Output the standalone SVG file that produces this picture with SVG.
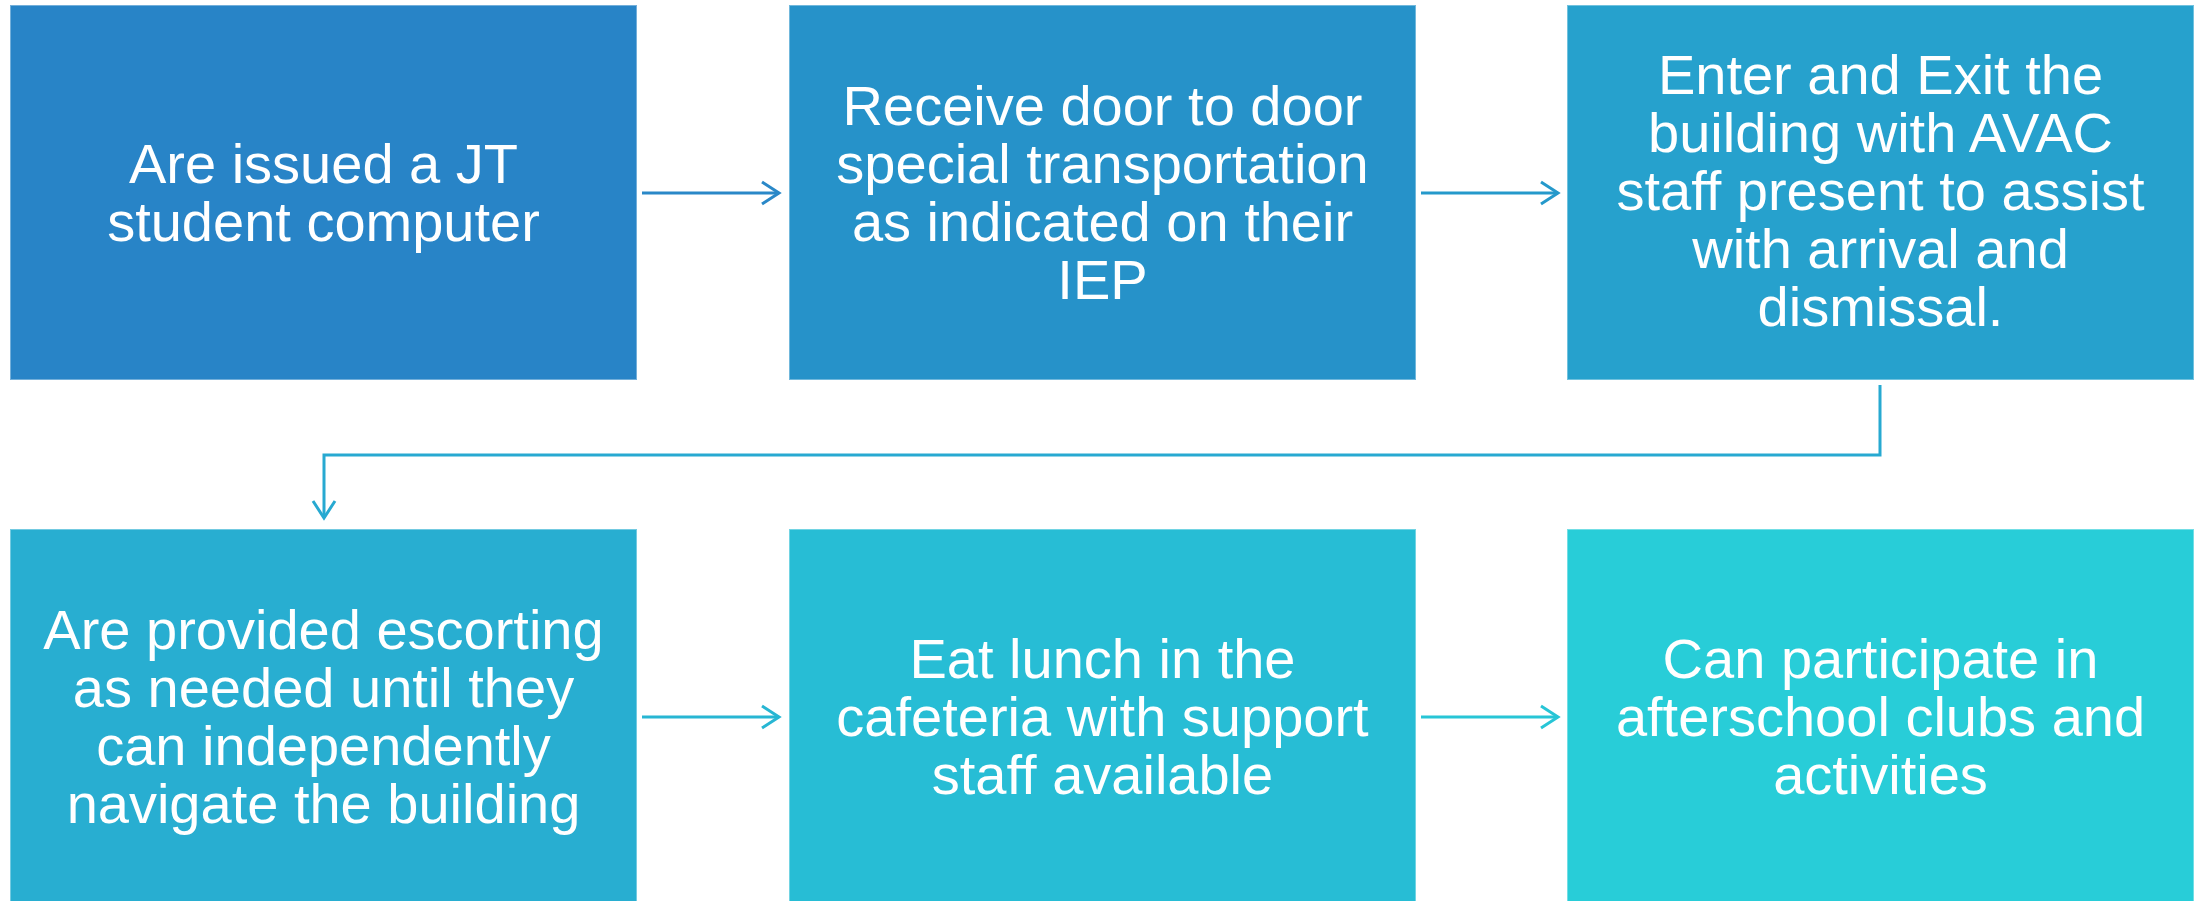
<svg xmlns="http://www.w3.org/2000/svg" width="2201" height="901" viewBox="0 0 2201 901">
<style>
.box{stroke:#ffffff;stroke-opacity:0.35;stroke-width:2}
.t{font-family:"Liberation Sans",Arial,sans-serif;font-size:56px;fill:#ffffff;text-anchor:middle}
.c{fill:none;stroke-width:3}
</style>
<defs>
<marker id="ah1" markerUnits="userSpaceOnUse" markerWidth="30" markerHeight="30" viewBox="-20 -15 25 30" refX="0" refY="0" orient="auto"><path d="M-17,-11 L0,0 L-17,11" fill="none" stroke="#2A88C8" stroke-width="3"/></marker>
<marker id="ah2" markerUnits="userSpaceOnUse" markerWidth="30" markerHeight="30" viewBox="-20 -15 25 30" refX="0" refY="0" orient="auto"><path d="M-17,-11 L0,0 L-17,11" fill="none" stroke="#2599CB" stroke-width="3"/></marker>
<marker id="ah3" markerUnits="userSpaceOnUse" markerWidth="30" markerHeight="30" viewBox="-20 -15 25 30" refX="0" refY="0" orient="auto"><path d="M-17,-11 L0,0 L-17,11" fill="none" stroke="#27A9D1" stroke-width="3"/></marker>
<marker id="ah4" markerUnits="userSpaceOnUse" markerWidth="30" markerHeight="30" viewBox="-20 -15 25 30" refX="0" refY="0" orient="auto"><path d="M-17,-11 L0,0 L-17,11" fill="none" stroke="#27B6D3" stroke-width="3"/></marker>
<marker id="ah5" markerUnits="userSpaceOnUse" markerWidth="30" markerHeight="30" viewBox="-20 -15 25 30" refX="0" refY="0" orient="auto"><path d="M-17,-11 L0,0 L-17,11" fill="none" stroke="#27C5D6" stroke-width="3"/></marker>
</defs>
<rect width="2201" height="901" fill="#ffffff"/>
<g id="connectors">
<path class="c" d="M642,193 H779" stroke="#2A88C8" marker-end="url(#ah1)"/>
<path class="c" d="M1421,193 H1558" stroke="#2599CB" marker-end="url(#ah2)"/>
<path class="c" d="M1880,385 V455 H324 V518" stroke="#27A9D1" marker-end="url(#ah3)"/>
<path class="c" d="M642,717 H779" stroke="#27B6D3" marker-end="url(#ah4)"/>
<path class="c" d="M1421,717 H1558" stroke="#27C5D6" marker-end="url(#ah5)"/>
</g>
<g id="n1">
<rect class="box" x="10" y="5" width="627" height="375" fill="#2884C7"/>
<text class="t"><tspan x="323.5" y="183">Are issued a JT</tspan><tspan x="323.5" y="241">student computer</tspan></text>
</g>
<g id="n2">
<rect class="box" x="789" y="5" width="627" height="375" fill="#2692C9"/>
<text class="t"><tspan x="1102.5" y="125">Receive door to door</tspan><tspan x="1102.5" y="183">special transportation</tspan><tspan x="1102.5" y="241">as indicated on their</tspan><tspan x="1102.5" y="299">IEP</tspan></text>
</g>
<g id="n3">
<rect class="box" x="1567" y="5" width="627" height="375" fill="#26A1CD"/>
<text class="t"><tspan x="1880.5" y="94">Enter and Exit the</tspan><tspan x="1880.5" y="152">building with AVAC</tspan><tspan x="1880.5" y="210">staff present to assist</tspan><tspan x="1880.5" y="268">with arrival and</tspan><tspan x="1880.5" y="326">dismissal.</tspan></text>
</g>
<g id="n4">
<rect class="box" x="10" y="529" width="627" height="380" fill="#28AED1"/>
<text class="t"><tspan x="323.5" y="649">Are provided escorting</tspan><tspan x="323.5" y="707">as needed until they</tspan><tspan x="323.5" y="765">can independently</tspan><tspan x="323.5" y="823">navigate the building</tspan></text>
</g>
<g id="n5">
<rect class="box" x="789" y="529" width="627" height="380" fill="#27BDD5"/>
<text class="t"><tspan x="1102.5" y="678">Eat lunch in the</tspan><tspan x="1102.5" y="736">cafeteria with support</tspan><tspan x="1102.5" y="794">staff available</tspan></text>
</g>
<g id="n6">
<rect class="box" x="1567" y="529" width="627" height="380" fill="#28CDD8"/>
<text class="t"><tspan x="1880.5" y="678">Can participate in</tspan><tspan x="1880.5" y="736">afterschool clubs and</tspan><tspan x="1880.5" y="794">activities</tspan></text>
</g>
</svg>
